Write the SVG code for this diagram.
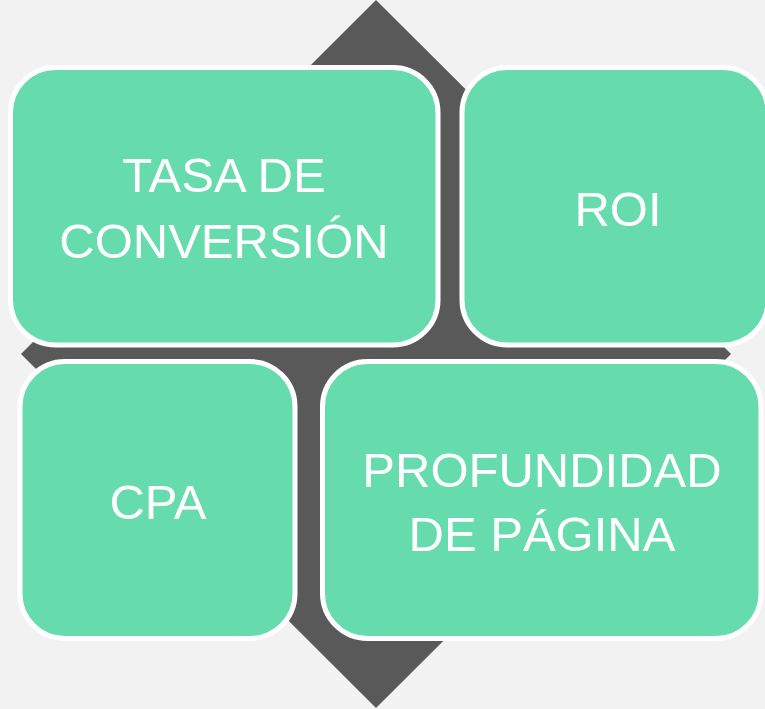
<svg xmlns="http://www.w3.org/2000/svg" width="765" height="709" viewBox="0 0 765 709">
<style>
.box{fill:#66DBAE;stroke:#FFFFFF;stroke-width:5}
.lbl{fill:#FFFFFF;font-family:"Liberation Sans",Arial,sans-serif;font-size:49px;text-anchor:middle}
</style>
<rect width="765" height="709" fill="#F2F2F2"/>
<g id="connectors">
<polygon id="diamond" points="376,0 731,354 376,708 21,354" fill="#595959"/>
</g>
<g id="node-tasa">
<rect class="box" x="10.5" y="67.5" width="427.5" height="277.5" rx="45"/>
<text class="lbl" x="224" y="192">TASA DE</text>
<text class="lbl" x="224" y="258">CONVERSIÓN</text>
</g>
<g id="node-roi">
<rect class="box" x="462" y="67.5" width="306" height="277.5" rx="45"/>
<text class="lbl" x="618" y="226">ROI</text>
</g>
<g id="node-cpa">
<rect class="box" x="20" y="361.5" width="275" height="277" rx="45"/>
<text class="lbl" x="158" y="519">CPA</text>
</g>
<g id="node-profundidad">
<rect class="box" x="322.5" y="361.5" width="438.5" height="277" rx="45"/>
<text class="lbl" x="542" y="487">PROFUNDIDAD</text>
<text class="lbl" x="542" y="551">DE PÁGINA</text>
</g>
</svg>
